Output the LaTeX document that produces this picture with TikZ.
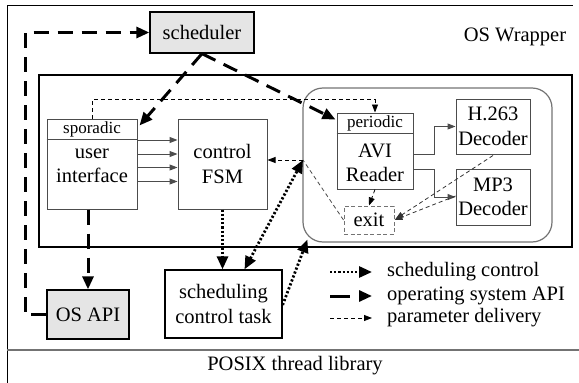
\documentclass[tikz,border=0pt]{standalone}
\usepackage{fontspec}
\setmainfont{Liberation Serif}
\newfontfamily\serifface{Liberation Serif}
\usetikzlibrary{arrows.meta,calc}
\newcommand\diagfont{\serifface\fontsize{20.5}{24.5}\selectfont}
\newcommand\tagfont{\serifface\fontsize{17}{19}\selectfont}
\begin{document}
\begin{tikzpicture}[x=1pt,y=-1pt,
  box/.style={draw=black!70, line width=1pt, align=center, inner sep=0pt, font=\diagfont},
  graybox/.style={draw=black, line width=1.3pt, fill=black!10, align=center, inner sep=0pt, font=\diagfont},
  plainbox/.style={draw=black, line width=1.3pt, align=center, inner sep=0pt, font=\diagfont},
  txt/.style={align=center, inner sep=0pt, font=\diagfont},
  bigtip/.tip={Triangle[length=13pt,width=11pt]},
  smalltip/.tip={Triangle[length=8pt,width=6pt]},
  osapiline/.style={line width=3pt, dash pattern=on 15pt off 9pt, -bigtip},
  schedline/.style={line width=2.8pt, dash pattern=on 2.2pt off 2pt, -bigtip},
  paramline/.style={line width=0.8pt, dash pattern=on 4pt off 3pt, -smalltip},
  dataline/.style={line width=1pt, draw=black!70, -smalltip}
]
\useasboundingbox (0,0) rectangle (579,383);

% outer frame and thread library band
\draw[line width=1pt] (7,383) -- (7,5) -- (573,5);
\draw[line width=1.2pt, black!55] (7,350) -- (579,350);
\node[txt] (wrap) at (515,37) {OS Wrapper};
\node[txt] (posix) at (295,366) {POSIX thread library};

% application area
\node[draw, line width=2pt, minimum width=533pt, minimum height=172pt] (app) at (305.5,161) {};
\node[draw=black!55, line width=1.2pt, rounded corners=20pt, minimum width=249pt, minimum height=154pt] (grp) at (427.5,165) {};

% tasks
\node[graybox, minimum width=104pt, minimum height=41pt] (sched) at (202,32.5) {scheduler};
\node[box, minimum width=90pt, minimum height=90pt] (ui) at (92,164) {};
\draw[black!70, line width=1pt] ($(ui.north west)+(0,20.5)$) -- ($(ui.north east)+(0,20.5)$);
\node[txt, font=\tagfont] (uitag) at (92,129.5) {sporadic};
\node[txt] (uitxt) at (92,166) {user\\interface};

\node[box, minimum width=89pt, minimum height=90pt] (fsm) at (222.5,164) {control\\FSM};

\node[box, minimum width=76pt, minimum height=76pt] (avi) at (375,151) {};
\draw[black!70, line width=1pt] ($(avi.north west)+(0,21)$) -- ($(avi.north east)+(0,21)$);
\node[txt, font=\tagfont] (avitag) at (375,123.5) {periodic};
\node[txt] (avitxt) at (375,163) {AVI\\Reader};

\node[box, minimum width=74pt, minimum height=55pt] (h263) at (493,126.5) {H.263\\Decoder};
\node[box, minimum width=74pt, minimum height=56pt] (mp3) at (493,197) {MP3\\Decoder};
\node[box, draw=black!55, dash pattern=on 4pt off 2.5pt, minimum width=50pt, minimum height=28pt] (exit) at (369,220) {exit};

\node[plainbox, minimum width=117pt, minimum height=68pt] (sct) at (223.5,304) {scheduling\\control task};
\node[graybox, minimum width=82pt, minimum height=49pt] (osapi) at (88,314.5) {OS API};

% operating system API
\coordinate (bend) at (25,32.5);
\draw[osapiline] (osapi.west) -| (bend) -- (sched.west);
\draw[osapiline] (sched.south) -- ($(ui.north east)+(2,7)$);
\draw[osapiline] (sched.south) -- ($(avi.north west)+(-1,7)$);
\draw[osapiline] (osapi.north |- ui.south) -- (osapi.north);

% data flow between tasks
\foreach \dy in {21.5,35.5,49,63}
  \draw[dataline] ($(ui.north east)+(0,\dy)$) -- ($(fsm.north west)+(0,\dy)$);
\draw[dataline] ($(avi.east)+(0,3)$) -- ++(21,0) |- (h263.west);
\draw[dataline] ($(avi.east)+(0,18)$) -- ++(21,0) |- (mp3.west);

% parameter delivery
\coordinate (j) at (303,160);
\draw[paramline] (ui.north) -- ++(0,-19) -| (avi.north);
\draw[paramline] (avi.south) -- (exit.north);
\draw[paramline, black!80] ($(h263.south)+(0,1)$) -- ($(exit.east)+(1,-1)$);
\draw[paramline, black!80] ($(mp3.west)+(0,-1)$) -- (exit.east);
\draw[paramline, -, black!70] (exit.west) -- (j);
\draw[paramline] (j) -- (fsm.east |- j);

% scheduling control
\draw[schedline] (fsm.south) -- (fsm.south |- sct.north);
\draw[schedline, bigtip-bigtip] ($(sct.north)+(21,0)$) -- (j);
\draw[schedline] ($(sct.east)+(0,1)$) -- ($(grp.south west)+(5,-3)$);

% legend
\coordinate (la1) at (330,272); \coordinate (lb1) at (372,272);
\coordinate (la2) at (330,296); \coordinate (lb2) at (372,296);
\coordinate (la3) at (330,318); \coordinate (lb3) at (372,318);
\draw[schedline] (la1) -- (lb1);
\draw[osapiline, dash pattern=on 20pt off 20pt] (la2) -- (lb2);
\draw[paramline] (la3) -- (lb3);
\node[txt, anchor=west] (leg1) at (387,272) {scheduling control};
\node[txt, anchor=west] (leg2) at (387,296) {operating system API};
\node[txt, anchor=west] (leg3) at (387,318) {parameter delivery};
\end{tikzpicture}
\end{document}
